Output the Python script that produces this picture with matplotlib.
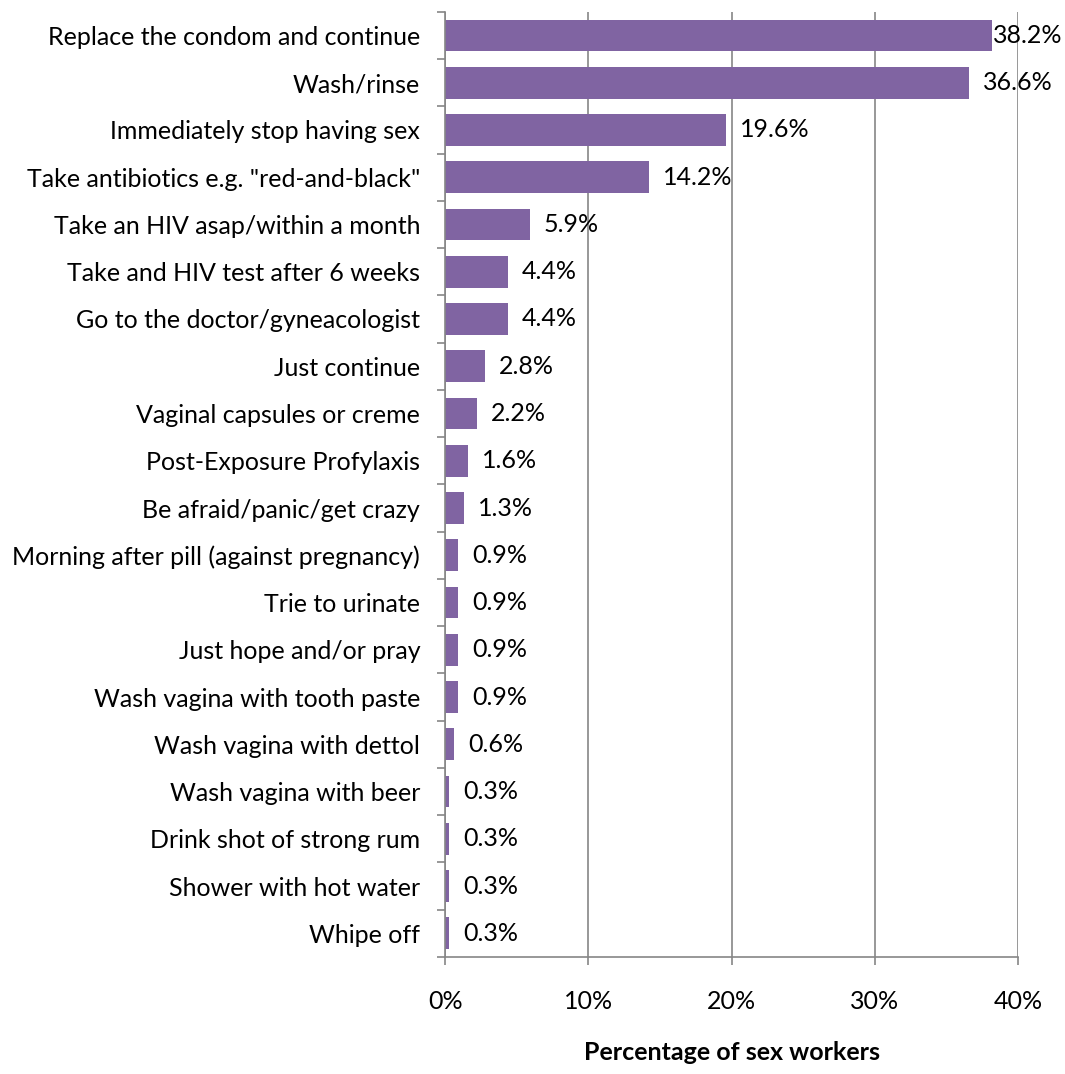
import numpy as np
import matplotlib
matplotlib.use("Agg")
from matplotlib import pyplot as plt
from matplotlib.ticker import FixedLocator

categories = [
    'Replace the condom and continue',
    'Wash/rinse',
    'Immediately stop having sex',
    'Take antibiotics e.g. "red-and-black"',
    'Take an HIV asap/within a month',
    'Take and HIV test after 6 weeks',
    'Go to the doctor/gyneacologist',
    'Just continue',
    'Vaginal capsules or creme',
    'Post-Exposure Profylaxis',
    'Be afraid/panic/get crazy',
    'Morning after pill (against pregnancy)',
    'Trie to urinate',
    'Just hope and/or pray',
    'Wash vagina with tooth paste',
    'Wash vagina with dettol',
    'Wash vagina with beer',
    'Drink shot of strong rum',
    'Shower with hot water',
    'Whipe off',
]
values = [38.2, 36.6, 19.6, 14.2, 5.9, 4.4, 4.4, 2.8, 2.2, 1.6,
          1.3, 0.9, 0.9, 0.9, 0.9, 0.6, 0.3, 0.3, 0.3, 0.3]
xticks = [0, 10, 20, 30, 40]

plt.rcParams['font.family'] = ['Lato', 'DejaVu Sans']
gray = '#868686'
fs = 18

fig = plt.figure(figsize=(10.65, 10.74), dpi=100)
ax = fig.add_axes([0.418, 0.109, 0.538, 0.880])

y = np.arange(len(categories))
bars = ax.barh(y, values, height=0.67, color='#8064A2', zorder=2)
ax.set_ylim(len(categories) - 0.5, -0.5)
ax.set_xlim(0, 40)

for i, v in enumerate(values):
    pad = 1 if i == 0 else 14
    ax.annotate(f'{v:.1f}%', (v, i), xytext=(pad * 0.72, 0), textcoords='offset points',
                ha='left', va='center', fontsize=fs, color='black', zorder=3)

ax.set_yticks(y)
ax.set_yticklabels(categories, fontsize=fs)
ax.yaxis.set_minor_locator(FixedLocator(np.arange(-0.5, len(categories), 1)))
ax.tick_params(axis='y', which='major', length=0, pad=18)
ax.tick_params(axis='y', which='minor', length=6, width=1.2, color=gray, direction='out')

ax.set_xticks(xticks)
ax.set_xticklabels([f'{t}%' for t in xticks], fontsize=fs)
ax.tick_params(axis='x', length=6, width=1.2, color=gray, direction='out', pad=18)
ax.xaxis.grid(True, color=gray, linewidth=1.2, zorder=1)
ax.set_axisbelow(True)

for s in ['top', 'right']:
    ax.spines[s].set_visible(False)
for s in ['left', 'bottom']:
    ax.spines[s].set_color(gray)
    ax.spines[s].set_linewidth(1.2)

ax.set_xlabel('Percentage of sex workers', fontsize=fs, fontweight='bold', labelpad=20)

fig.savefig('out.png', dpi=100)
